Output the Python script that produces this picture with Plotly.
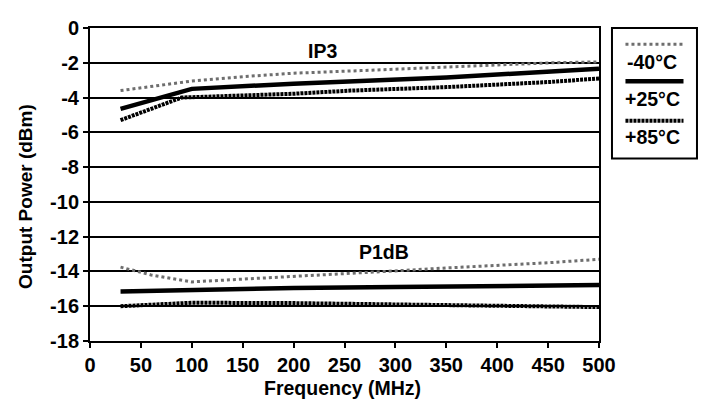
import plotly.graph_objects as go

# ---- data ----
ip3_m40_f = [30, 60, 100, 150, 200, 266, 350, 453, 500]
ip3_m40_v = [-3.6, -3.35, -3.05, -2.8, -2.6, -2.45, -2.25, -2.0, -1.95]
ip3_p25_f = [30, 100, 200, 266, 350, 453, 500]
ip3_p25_v = [-4.65, -3.5, -3.2, -3.05, -2.85, -2.5, -2.35]
ip3_p85_f = [30, 90, 200, 256, 350, 453, 500]
ip3_p85_v = [-5.3, -4.0, -3.78, -3.6, -3.4, -3.1, -2.9]

p1_m40_f = [30, 60, 100, 200, 290, 350, 400, 450, 500]
p1_m40_v = [-13.75, -14.2, -14.6, -14.3, -14.0, -13.8, -13.65, -13.5, -13.3]
p1_p25_f = [30, 200, 300, 400, 500]
p1_p25_v = [-15.15, -14.95, -14.9, -14.85, -14.78]
p1_p85_f = [30, 100, 200, 300, 400, 500]
p1_p85_v = [-16.0, -15.8, -15.82, -15.9, -15.98, -16.05]

x_ticks = [0, 50, 100, 150, 200, 250, 300, 350, 400, 450, 500]
y_ticks = [0, -2, -4, -6, -8, -10, -12, -14, -16, -18]
y_tick_labels = ["0", "-2", "-4", "-6", "-8", "-10", "-12", "-14", "-16", "-18"]
legend_labels = ["-40°C", "+25°C", "+85°C"]

FONT = "Liberation Sans, Arial, sans-serif"
styles = {
    "-40°C": dict(color="#6e6e6e", width=3, dash="dot"),
    "+25°C": dict(color="black", width=4.5, dash="solid"),
    "+85°C": dict(color="black", width=4, dash="3px,1px"),
}

fig = go.Figure()
series = [
    (ip3_m40_f, ip3_m40_v, "-40°C"), (ip3_p25_f, ip3_p25_v, "+25°C"), (ip3_p85_f, ip3_p85_v, "+85°C"),
    (p1_m40_f, p1_m40_v, "-40°C"), (p1_p25_f, p1_p25_v, "+25°C"), (p1_p85_f, p1_p85_v, "+85°C"),
]
for fx, fv, lab in series:
    fig.add_trace(go.Scatter(x=fx, y=fv, mode="lines", line=styles[lab],
                             showlegend=False, name=lab))

tickfont = dict(family=FONT, size=20, color="black", weight="bold")
# the page body adds an 8px offset, so the figure is 8px smaller with 8px less left/top margin
fig.update_layout(
    width=701, height=401,
    margin=dict(l=82, r=110, t=9, b=68),
    paper_bgcolor="white", plot_bgcolor="white",
    xaxis=dict(range=[0, 500], tickvals=x_ticks, showgrid=False, zeroline=False,
               showline=True, linecolor="black", linewidth=2, mirror=True,
               ticks="outside", ticklen=5, tickwidth=2, tickcolor="black",
               tickfont=tickfont, ticklabeloverflow="allow"),
    yaxis=dict(range=[-18, 0], tickvals=y_ticks, ticktext=y_tick_labels,
               showgrid=True, gridcolor="black", gridwidth=2, zeroline=False,
               showline=True, linecolor="black", linewidth=2, mirror=True,
               ticks="outside", ticklen=5, tickwidth=2, tickcolor="black",
               tickfont=tickfont, ticklabeloverflow="allow"),
)

def label(x, y, text, xref="paper", yref="paper", size=20, angle=0):
    fig.add_annotation(x=x, y=y, xref=xref, yref=yref, text=text, showarrow=False,
                       xanchor="center", yanchor="middle", textangle=angle,
                       font=dict(family=FONT, size=size, color="black", weight="bold"))

# axis titles and curve labels
label(0.497, -0.151, "Frequency (MHz)", size=19.5)
label(-0.128, 0.463, "Output Power (dBm)", size=19, angle=-90)
label(228, -1.3, "IP3", xref="x", yref="y", size=19.5)
label(289, -12.9, "P1dB", xref="x", yref="y", size=19.5)

# custom legend (sample line above label)
fig.add_shape(type="rect", xref="paper", yref="paper", x0=1.0255, x1=1.1925, y0=0.5833, y1=1.0,
              line=dict(color="black", width=2))
line_y = [0.948, 0.830, 0.704]
text_y = [0.892, 0.772, 0.651]
for lab, ly, ty in zip(legend_labels, line_y, text_y):
    st = styles[lab]
    fig.add_shape(type="line", xref="paper", yref="paper", x0=1.052, x1=1.166, y0=ly, y1=ly,
                  line=dict(color=st["color"], width=st["width"], dash=st["dash"]))
    label(1.105, ty, lab, size=19.5)

fig.write_html("out.html")
